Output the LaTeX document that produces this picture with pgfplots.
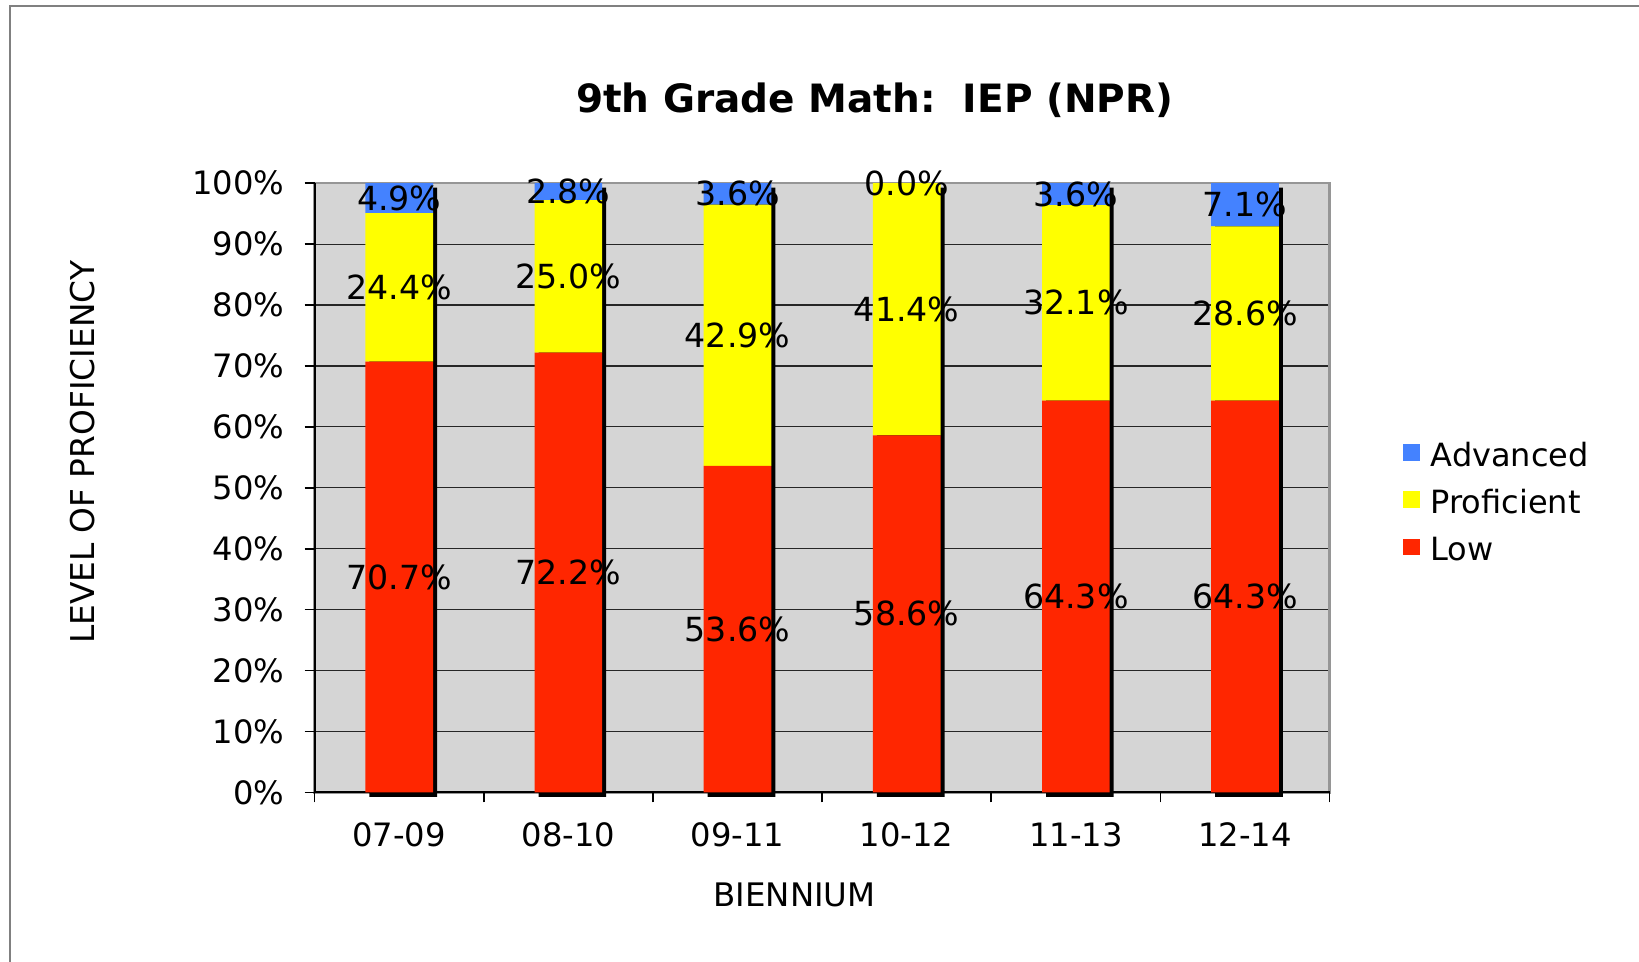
\documentclass[border=0pt]{standalone}
\usepackage{pgfplots}
\usepackage{pgfplotstable}
\pgfplotsset{compat=1.18}
\usepackage{fontspec}
\setmainfont{DejaVu Sans}

\definecolor{lowred}{RGB}{255,38,0}
\definecolor{profyellow}{RGB}{255,255,0}
\definecolor{advblue}{RGB}{68,130,255}
\definecolor{plotgray}{RGB}{213,213,213}
\definecolor{bordergray}{RGB}{150,150,150}
\definecolor{framegray}{RGB}{128,128,128}

% shares per biennium (percent)
\pgfplotstableread{
x low prof adv
0 70.7 24.4 4.9
1 72.2 25.0 2.8
2 53.6 42.9 3.6
3 58.6 41.4 0.0
4 64.3 32.1 3.6
5 64.3 28.6 7.1
}\scores

% label positions: middle of each segment
\pgfplotstableread{
x y v
0 35.35 70.7
0 82.90 24.4
0 97.55 4.9
1 36.10 72.2
1 84.70 25.0
1 98.60 2.8
2 26.80 53.6
2 75.05 42.9
2 98.30 3.6
3 29.30 58.6
3 79.30 41.4
3 100.0 0.0
4 32.15 64.3
4 80.35 32.1
4 98.20 3.6
5 32.15 64.3
5 78.60 28.6
5 96.45 7.1
}\labels

\pgfplotsset{
  base/.style={
    at={(0pt,0pt)}, anchor=south west,
    scale only axis, width=253.75pt, height=152.3pt,
    xmin=-0.5, xmax=5.5, ymin=0, ymax=100, enlargelimits=false,
  },
}

\begin{document}
\begin{tikzpicture}
\useasboundingbox (-78.65pt,-42.4pt) rectangle (331.1pt,198.1pt);
\draw[framegray, line width=0.45pt] (-76.15pt,-60pt) -- (-76.15pt,196.6pt) -- (360pt,196.6pt);

% background, grid and bar shadows
\begin{axis}[base,
  axis background/.style={fill=plotgray},
  axis line style={draw=bordergray, line width=0.6pt},
  ytick={10,20,...,90}, yticklabels={}, xtick=\empty,
  ymajorgrids, grid style={black!85, line width=0.3pt},
  major tick length=0pt, clip=false,
]
\addplot[ybar, bar width=0.4, bar shift=0pt, fill=black, draw=none, xshift=1pt, yshift=-1.1pt]
  coordinates {(0,100) (1,100) (2,100) (3,100) (4,100) (5,100)};
\end{axis}

% stacked bars
\begin{axis}[base,
  ybar stacked, bar width=0.4,
  axis x line*=bottom, axis y line*=left,
  axis line style={-, black, line width=0.5pt},
  tick align=outside, major tick length=2.5pt,
  tick style={black, line width=0.4pt},
  ytick={0,10,...,100},
  yticklabel={\pgfmathprintnumber{\tick}\%},
  yticklabel style={inner sep=0pt, xshift=-4.9pt},
  xtick={-0.5,0.5,...,5.5}, xticklabels={},
  extra x ticks={0,1,2,3,4,5},
  extra x tick labels={07-09,08-10,09-11,10-12,11-13,12-14},
  extra x tick style={major tick length=0pt, xticklabel style={anchor=base, yshift=-13.6pt}},
  tick label style={font=\fontsize{8.05}{9.6}\selectfont},
  /pgf/number format/assume math mode=true,
  legend style={at={(1.072,0.477)}, anchor=west, draw=none, fill=none,
    inner sep=0pt, row sep=6pt, column sep=0pt,
    nodes={inner sep=0pt, text height=5.85pt, text depth=0pt, font=\fontsize{8}{9.6}\selectfont}},
  legend image code/.code={\fill[#1] (0pt,-1.55pt) rectangle (4.2pt,2.65pt); \path (6.8pt,0pt);},
  reverse legend, legend cell align=left,
]
\addplot[fill=lowred, draw=none] table[x=x, y=low] {\scores};
\addplot[fill=profyellow, draw=none] table[x=x, y=prof] {\scores};
\addplot[fill=advblue, draw=none] table[x=x, y=adv] {\scores};
\legend{Low, Proficient, Advanced}
\end{axis}

% data labels
\begin{axis}[base, hide axis, clip=false]
\addplot[draw=none, mark=none, point meta=explicit,
  nodes near coords={\pgfmathprintnumber[fixed, fixed zerofill, precision=1, assume math mode=true]{\pgfplotspointmeta}\%},
  every node near coord/.append style={anchor=center, inner sep=0pt, font=\fontsize{8.3}{9.9}\selectfont}]
  table[x=x, y=y, meta=v] {\labels};
\end{axis}

\node[anchor=base, font=\fontsize{9.75}{12}\selectfont\bfseries] at (140pt,170pt) {9th Grade Math:\ \ IEP (NPR)};
\node[anchor=base, rotate=90, font=\fontsize{8.2}{9.8}\selectfont] at (-54.9pt,85pt) {LEVEL OF PROFICIENCY};
\node[anchor=base, font=\fontsize{8.1}{9.7}\selectfont] at (120pt,-28.5pt) {BIENNIUM};
\end{tikzpicture}
\end{document}
